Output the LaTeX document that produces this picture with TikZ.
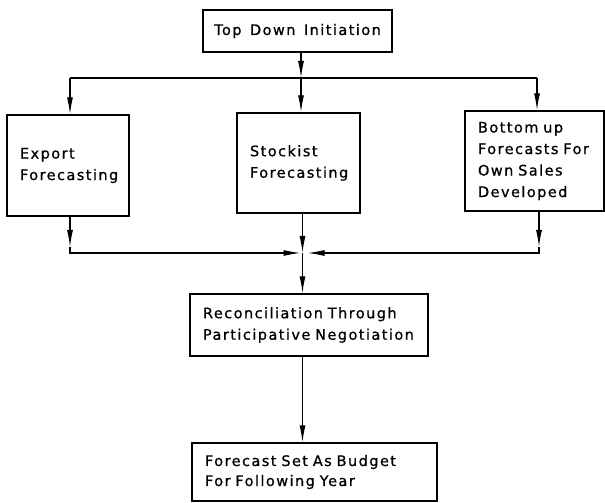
\documentclass[tikz,border=0pt]{standalone}
\usepackage{fontspec}
\setmainfont{DejaVu Sans}[LetterSpace=10,WordSpace=1.4,FakeBold=0.8]
\usetikzlibrary{arrows.meta}
\begin{document}
\begin{tikzpicture}[x=1pt,y=1pt,
  box/.style={draw,line width=1.4pt,inner xsep=13pt,inner ysep=0pt,align=left,
    font=\fontsize{14.5}{21.5}\selectfont},
  arr/.style={line width=1.2pt,-{Latex[length=17pt,width=6pt]}},
  ln/.style={line width=1.2pt}]
\useasboundingbox (0,0) rectangle (605,503);
% boxes
\node[box,minimum width=189pt,minimum height=42pt,align=center,inner xsep=2pt] (top) at (297.5,472) {Top Down Initiation};
\node[box,minimum width=122pt,minimum height=101pt,text width=96pt] (exp) at (68,337.5) {Export\\Forecasting};
\node[box,minimum width=123pt,minimum height=100pt,text width=97pt] (stk) at (298.5,340) {Stockist\\Forecasting};
\node[box,minimum width=139pt,minimum height=100pt,text width=113pt] (bot) at (534.5,342) {Bottom up\\Forecasts For\\Own Sales\\Developed};
\node[box,minimum width=238pt,minimum height=62pt,text width=212pt] (rec) at (309,178) {Reconciliation Through\\Participative Negotiation};
\node[box,minimum width=245pt,minimum height=58pt,text width=219pt,font=\fontsize{14.5}{20}\selectfont] (fin) at (314.5,31) {Forecast Set As Budget\\For Following Year};
% coordinates
\coordinate (j1) at (301,425);
\coordinate (cl) at (70,425);
\coordinate (cr) at (537,425);
\coordinate (j2) at (302.5,250);
\coordinate (bl) at (70,250);
\coordinate (br) at (539,250);
% connectors
\draw[arr] (top.south -| j1) -- (j1);
\draw[arr] (j1) -- (j1 |- stk.north);
\draw[ln] (cl) -- (cr);
\draw[arr] (cl) -- (cl |- exp.north);
\draw[arr] (cr) -- (cr |- bot.north);
\draw[arr] (exp.south -| bl) -- ([yshift=6pt]bl);
\draw[arr] ([yshift=6pt]bl) -- (bl) -- ([xshift=-2pt]j2);
\draw[arr] (bot.south -| br) -- ([yshift=6pt]br);
\draw[arr] ([yshift=6pt]br) -- (br) -- ([xshift=5pt]j2);
\draw[arr] (stk.south -| j2) -- (j2);
\draw[arr] (j2) -- (j2 |- rec.north);
\draw[arr] (rec.south -| j2) -- (j2 |- fin.north);
\end{tikzpicture}
\end{document}
